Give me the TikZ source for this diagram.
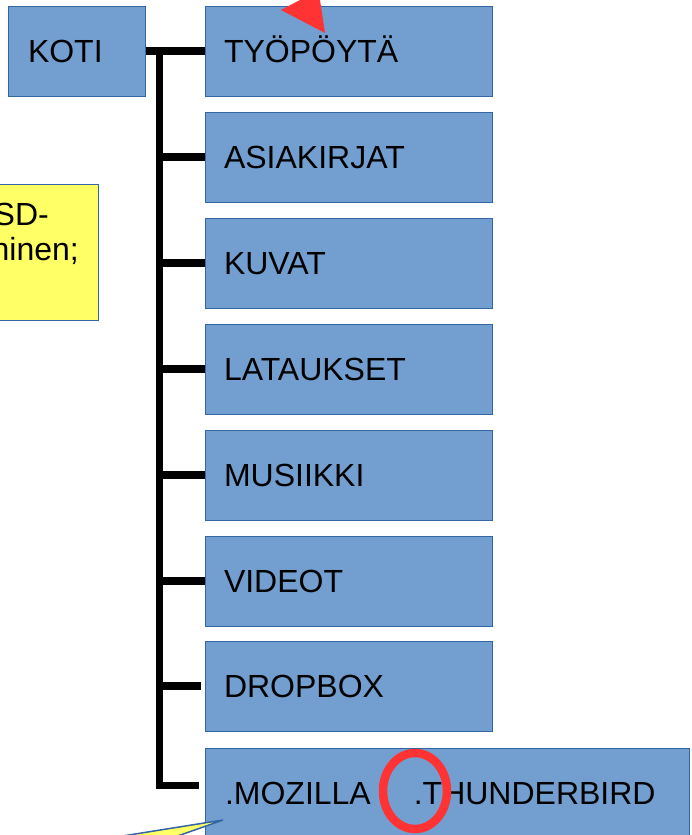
\documentclass[tikz,border=0pt]{standalone}
\usepackage{fontspec}
\setmainfont{Liberation Sans}
\usetikzlibrary{positioning,calc}
\definecolor{boxfill}{HTML}{729FCF}
\definecolor{boxline}{HTML}{3465A4}
\definecolor{notefill}{HTML}{FFFF66}
\definecolor{markred}{HTML}{FF3333}
\tikzset{
	folder/.style={
			draw=boxline, line width=1pt, fill=boxfill,
			minimum height=90pt, text width=249pt,
			inner xsep=19pt, inner ysep=0pt,
			text height=23pt, text depth=0pt,
			font=\fontsize{32}{38}\selectfont
		},
	note/.style={draw=boxline, line width=1pt, fill=notefill, minimum width=200pt, minimum height=136pt},
	notetext/.style={inner sep=0pt, font=\fontsize{32}{38}\selectfont},
	tree/.style={line width=7.3pt}
}

\begin{document}
\begin{tikzpicture}[x=1pt,y=-1pt]
		% page frame
		\useasboundingbox (0,0) rectangle (691,835);

		% note box at the left edge
		\node[note, anchor=north east] (note) at (99,184) {};
		\node[notetext, anchor=base east] (noteone) at (49,225) {SD-};
		\node[notetext, anchor=base east] (notetwo) at (79,260) {ninen;};

		% home folder and its subfolders
		\node[folder, text width=97pt, inner xsep=20pt, anchor=north west] (koti) at (7.5,5.5) {KOTI};
		\node[folder, right=59pt of koti] (tyopoyta) {TYÖPÖYTÄ};
		\node[folder, below=15pt of tyopoyta] (asiakirjat) {ASIAKIRJAT};
		\node[folder, below=15pt of asiakirjat] (kuvat) {KUVAT};
		\node[folder, below=15pt of kuvat] (lataukset) {LATAUKSET};
		\node[folder, below=15pt of lataukset] (musiikki) {MUSIIKKI};
		\node[folder, below=15pt of musiikki] (videot) {VIDEOT};
		\node[folder, below=14pt of videot] (dropbox) {DROPBOX};
		\node[folder, below=16pt of dropbox.south west, anchor=north west,
			text width=444pt, inner xsep=20pt] (mozilla) {.MOZILLA\hspace{43pt}.THUNDERBIRD};

		% tree lines
		\coordinate (trunktop) at ([xshift=14pt]koti.east);
		\coordinate (trunkend) at ($(trunktop |- mozilla.north)+(0,38)$);
		\draw[tree] (koti.east) -- (tyopoyta.west);
		\draw[tree, shorten >=6pt] (trunktop) -- (trunkend) -- (trunkend -| mozilla.west);
		\foreach \sub in {asiakirjat,kuvat,lataukset,musiikki,videot}
			\draw[tree] (trunktop |- \sub.west) -- (\sub.west);
		\draw[tree, shorten >=4pt] (trunktop |- dropbox.west) -- (dropbox.west);

		% red marks
		\fill[markred] (281,10) -- (318.5,-9.75) -- (325,33) -- cycle;
		\draw[markred, line width=8.5pt] (415,791) ellipse [x radius=32, y radius=38];

		% callout pointer
		\filldraw[fill=notefill, draw=boxline, line width=1.5pt] (223,820) -- (110,838) -- (172,838) -- cycle;
	\end{tikzpicture}
\end{document}
